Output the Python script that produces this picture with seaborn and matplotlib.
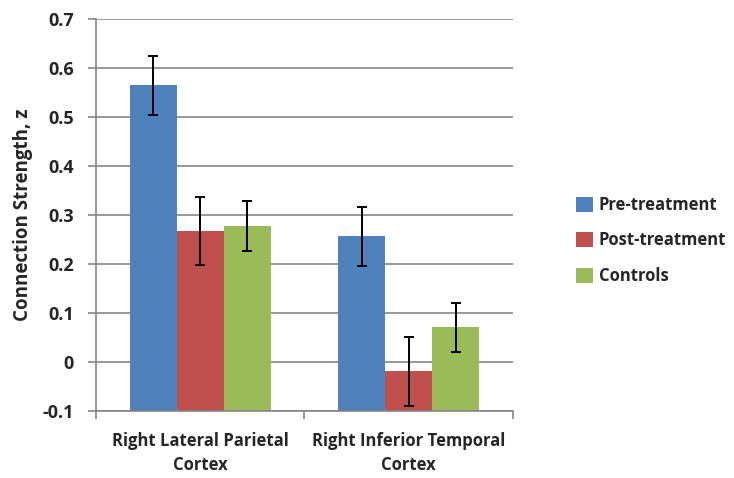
"""Connection strength by region and group, bar chart with error bars."""
import matplotlib
matplotlib.use("Agg")
import matplotlib.pyplot as plt
import pandas as pd
import seaborn as sns

regions = ["Right Lateral Parietal\nCortex", "Right Inferior Temporal\nCortex"]
groups = ["Pre-treatment", "Post-treatment", "Controls"]
pre_vals = [0.565, 0.257]
post_vals = [0.268, -0.019]
ctrl_vals = [0.278, 0.071]
pre_err = [0.060, 0.060]
post_err = [0.069, 0.071]
ctrl_err = [0.051, 0.050]

colors = ["#4F81BD", "#C0504D", "#9BBB59"]
grey = "#868686"
base = -0.1


def main():
    df = pd.DataFrame({
        "region": regions * 3,
        "group": [g for g in groups for _ in regions],
        "value": pre_vals + post_vals + ctrl_vals,
    })
    errs = [pre_err, post_err, ctrl_err]

    sns.set_style("white")
    plt.rcParams["font.family"] = ["Open Sans", "DejaVu Sans"]
    plt.rcParams["font.weight"] = "bold"

    fig = plt.figure(figsize=(7.34, 4.78), dpi=100)
    ax = fig.add_axes([0.1308, 0.140, 0.568, 0.820])

    sns.barplot(data=df, x="region", y="value", hue="group", order=regions,
                hue_order=groups, palette=colors, width=0.676, saturation=1,
                errorbar=None, linewidth=0, ax=ax, zorder=2)

    # Excel draws the bars up from the axis floor, not from zero
    for container, err in zip(ax.containers, errs):
        xs, ys = [], []
        for bar in container:
            top = bar.get_y() + bar.get_height()
            bar.set_y(base)
            bar.set_height(top - base)
            xs.append(bar.get_x() + bar.get_width() / 2)
            ys.append(top)
        ax.errorbar(xs, ys, yerr=err, fmt="none", ecolor="black",
                    elinewidth=1.4, capsize=3.5, capthick=1.4, zorder=3)

    ax.set_ylim(-0.1, 0.7)
    ax.set_xlim(-0.5, 1.5)
    ax.set_yticks([round(-0.1 + 0.1 * i, 1) for i in range(9)])
    ax.set_yticklabels(["-0.1", "0", "0.1", "0.2", "0.3", "0.4", "0.5", "0.6", "0.7"])
    ax.yaxis.grid(True, color=grey, linewidth=1.2, zorder=0)
    ax.set_axisbelow(True)

    ax.set_xticks([0, 1])
    ax.set_xticklabels(regions, fontsize=12, fontweight="bold", linespacing=1.45)
    ax.set_xticks([-0.5, 0.5, 1.5], minor=True)
    ax.tick_params(axis="x", which="major", length=0, pad=15)
    ax.tick_params(axis="x", which="minor", length=6, color=grey, width=1.2,
                   direction="out", bottom=True)
    ax.tick_params(axis="y", length=6, color=grey, width=1.2, direction="out",
                   left=True, pad=10, labelsize=13)
    for lab in ax.get_yticklabels():
        lab.set_fontweight("bold")

    sns.despine(ax=ax)
    for side in ("left", "bottom"):
        ax.spines[side].set_color(grey)
        ax.spines[side].set_linewidth(1.2)

    ax.set_xlabel("")
    ax.set_ylabel("Connection Strength, z", fontsize=13.5, fontweight="bold",
                  labelpad=7)

    handles, labels = ax.get_legend_handles_labels()
    ax.legend(handles, labels, loc="center left", bbox_to_anchor=(0.785, 0.497),
              bbox_transform=fig.transFigure, frameon=False,
              handlelength=1.0, handleheight=1.0, handletextpad=0.35,
              labelspacing=1.05, borderpad=0, borderaxespad=0,
              prop={"family": ["Open Sans", "DejaVu Sans"], "weight": "bold",
                    "size": 12})

    fig.savefig("out.png", dpi=100)
    return 0


if __name__ == "__main__":
    raise SystemExit(main())
